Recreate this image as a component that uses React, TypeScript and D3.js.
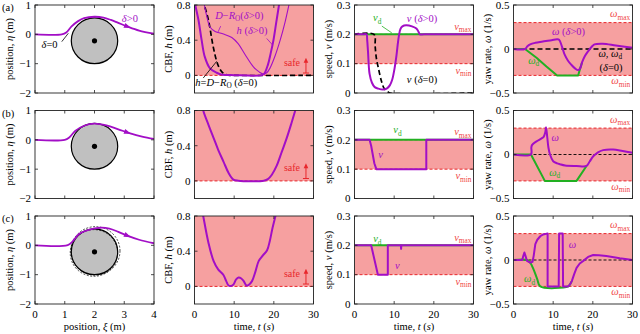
import React from 'react';
import * as d3 from 'd3';

type Pt = [number, number];

const PURPLE = '#a20ec6';
const GREEN = '#22b022';
const RED = '#e8262b';
const PINK = '#f6a0a0';
const LRED = '#f04848';
const FONT = '"Liberation Serif", "Times New Roman", serif';

// layout
const colX = [35, 194.5, 354.5, 513.5];
const rowY = [5, 110.5, 216];
const PW = 119;
const PH = 88;

// ---------- data ----------
// position (xi, eta)
const trajA: Pt[] = [[0, 0], [0.9, 0], [1.05, 0.06], [1.23, 0.27], [1.45, 0.45], [1.65, 0.55], [2.0, 0.6], [2.3, 0.57], [2.55, 0.49], [2.8, 0.39], [3.1, 0.27], [3.5, 0.13], [4.0, 0.02]];
const trajB: Pt[] = [[0, 0], [1.0, 0], [1.15, 0.08], [1.35, 0.3], [1.65, 0.48], [2.0, 0.55], [2.4, 0.49], [2.8, 0.36], [3.2, 0.22], [3.6, 0.11], [4.0, 0.03]];
const trajC: Pt[] = [[0, 0], [1.1, 0.01], [1.25, 0.12], [1.5, 0.4], [1.8, 0.53], [2.2, 0.6], [2.5, 0.57], [2.8, 0.46], [3.1, 0.33], [3.5, 0.19], [4.0, 0.07]];
const obstacle = { xi: 2, eta: -0.22, r: 0.78 };

// CBF
const hA: Pt[] = [[0, 0.85], [0.1, 0.82], [1.0, 0.63], [1.8, 0.4], [2.6, 0.21], [3.9, 0.08], [5.6, 0.03], [7, 0.008], [10, 0.003], [17, 0.003], [17.6, 0.02], [18.5, 0.12], [19.2, 0.25], [19.9, 0.4], [20.6, 0.6], [21.3, 0.8], [21.6, 0.9]];
const dA: Pt[] = [[2.0, 0.9], [2.4, 0.82], [3.1, 0.67], [3.9, 0.55], [5.2, 0.5], [7.3, 0.47], [9.4, 0.43], [11, 0.36], [12.7, 0.24], [14.8, 0.1], [16.3, 0.04], [17.4, 0.015], [18.2, 0.03], [19, 0.08], [20.3, 0.22], [21.6, 0.4], [22.8, 0.6], [23.8, 0.8], [24.2, 0.88]];
const h0A: Pt[] = [[1.8, 0.95], [2.2, 0.85], [3.5, 0.63], [4.7, 0.33], [5.6, 0.16], [6.3, 0.08], [6.9, 0.04], [7.6, 0.015], [8.5, 0.003], [10, 0], [30, 0]];
const hB: Pt[] = [[1.8, 0.9], [2.2, 0.8], [3.5, 0.64], [4.8, 0.49], [6, 0.35], [7.3, 0.22], [8.6, 0.09], [9.8, 0.015], [11, 0.002], [17.5, 0.002], [18.5, 0.02], [19.5, 0.07], [20.7, 0.17], [22, 0.33], [23.2, 0.48], [24.4, 0.65], [25.4, 0.8], [25.8, 0.86]];
const hC: Pt[] = [[1.8, 0.9], [2.2, 0.8], [3.5, 0.5], [4.8, 0.29], [6, 0.19], [7.3, 0.13], [8, 0.06], [8.6, 0.01], [9.3, 0.006], [9.8, 0.02], [10.5, 0.08], [11.1, 0.1], [11.8, 0.09], [12.4, 0.06], [13.1, 0.01], [13.6, 0.015], [14.5, 0.06], [15.3, 0.16], [16.2, 0.29], [17.2, 0.35], [18.3, 0.41], [19, 0.52], [19.6, 0.65], [20.4, 0.8], [20.7, 0.88]];

// speed
const vdA: Pt[] = [[0, 0.2], [30, 0.2]];
const vA: Pt[] = [[0, 0.2], [2.0, 0.2], [3.0, 0.2], [3.2, 0.18], [3.4, 0.142], [3.8, 0.065], [4.4, 0.035], [5.1, 0.02], [6, 0.015], [7.2, 0.012], [8.2, 0.016], [8.9, 0.026], [9.5, 0.045], [10.1, 0.084], [10.6, 0.13], [11, 0.177], [11.4, 0.21], [11.8, 0.224], [12.5, 0.23], [13.1, 0.231], [14.5, 0.227], [15.6, 0.22], [16.1, 0.21], [16.5, 0.2], [17.5, 0.2], [30, 0.2]];
const v0A: Pt[] = [[0, 0.2], [4.9, 0.2], [5.2, 0.16], [5.5, 0.12], [6.1, 0.08], [6.8, 0.04], [7.5, 0.015], [8.4, 0.004], [9, 0], [30, 0]];
const vdB: Pt[] = [[0, 0.2], [30, 0.2]];
const vB: Pt[] = [[0, 0.2], [3.8, 0.2], [4.2, 0.18], [4.6, 0.15], [5.0, 0.12], [5.5, 0.1], [18.1, 0.1], [18.1, 0.2], [30, 0.2]];
const vdC: Pt[] = [[0, 0.2], [30, 0.2]];
const vC: Pt[] = [[0, 0.2], [4.2, 0.2], [5.9, 0.1], [8.4, 0.1], [8.4, 0.2], [11.7, 0.2], [11.75, 0.188], [11.8, 0.2], [30, 0.2]];

// yaw rate
const wA: Pt[] = [[0, 0], [2.9, 0], [3.5, 0.03], [4.2, 0.052], [5.5, 0.07], [7.1, 0.083], [9.6, 0.1], [11.0, 0.11], [11.5, 0.105], [12.2, 0.03], [12.9, -0.065], [13.7, -0.13], [14.6, -0.18], [15.5, -0.22], [16.3, -0.24], [16.8, -0.22], [17.3, -0.15], [18.0, -0.08], [18.8, -0.026], [19.6, 0.02], [20.4, 0.052], [22.5, 0.06], [25.8, 0.04], [30, 0.013]];
const wdA: Pt[] = [[0, 0], [2.9, 0], [5.8, -0.1], [8.3, -0.2], [11.0, -0.3], [16.3, -0.3], [16.8, -0.22], [17.3, -0.15]];
const wB: Pt[] = [[0, 0], [4.4, 0], [4.5, 0.08], [4.7, 0.11], [5.8, 0.15], [7.0, 0.18], [7.6, 0.2], [8.0, 0.25], [8.2, 0.31], [8.5, 0.2], [8.8, 0.08], [9.2, 0], [10, -0.076], [11, -0.1], [11.7, -0.11], [13, -0.125], [15.9, -0.13], [18.4, -0.13], [19.2, -0.08], [20.1, -0.02], [21.3, 0.025], [22.6, 0.05], [25.1, 0.057], [27.5, 0.04], [30, 0.02]];
const wdB: Pt[] = [[0, 0], [4.4, 0], [7.9, -0.3], [15.9, -0.3], [18.4, -0.13]];
const wC: Pt[] = [[0, 0], [2.2, 0], [2.5, 0.05], [2.75, 0.085], [3.0, 0.05], [3.4, -0.01], [4.2, -0.03], [4.8, -0.02], [5.1, 0.05], [5.5, 0.18], [6.0, 0.23], [6.75, 0.27], [7.5, 0.29], [8.4, 0.3], [8.6, 0.3], [8.6, -0.3], [11.4, -0.3], [11.5, 0.3], [12.4, 0.3], [12.5, -0.3], [13.8, -0.3], [14.2, -0.28], [14.7, -0.24], [15.3, -0.16], [15.9, -0.09], [16.7, -0.04], [17.6, -0.01], [18.8, 0.035], [20.1, 0.057], [21.5, 0.055], [23.4, 0.045], [26.8, 0.02], [30, 0.0]];
const wdC: Pt[] = [[0, 0], [3.4, 0], [4.2, -0.03], [5.0, -0.1], [6.0, -0.22], [6.75, -0.3], [13.8, -0.3], [14.2, -0.28], [14.7, -0.24]];

// axes
const xiTicks = [0, 1, 2, 3, 4];
const tTicks = [0, 10, 20, 30];
const etaTicks = [-2, -1, 0, 1];
const hTicks = [0, 0.4, 0.8];
const vTicks = [0, 0.1, 0.2, 0.3];
const wTicks = [-0.5, 0, 0.5];

const fmt = (v: number) => (v < 0 ? '\u2212' + Math.abs(v) : String(v));

const path = (xs: any, ys: any, data: Pt[], curve: any = d3.curveLinear) =>
  d3.line<Pt>().x((d) => xs(d[0])).y((d) => ys(d[1])).curve(curve)(data) || '';

const smooth = d3.curveCatmullRom.alpha(0.5);

function Panel({ col, row, xDom, yDom, xTicks, yTicks, xLabel, yLabel, children }: any) {
  const xs = d3.scaleLinear().domain(xDom).range([0, PW]);
  const ys = d3.scaleLinear().domain(yDom).range([PH, 0]);
  const id = `clip-${row}-${col}`;
  return (
    <g transform={`translate(${colX[col]},${rowY[row]})`}>
      <clipPath id={id}>
        <rect width={PW} height={PH} />
      </clipPath>
      <g clipPath={`url(#${id})`}>{children(xs, ys)}</g>
      <rect width={PW} height={PH} fill="none" stroke="#222" strokeWidth={0.9} />
      {xTicks.map((t: number) => (
        <g key={'x' + t}>
          <line x1={xs(t)} x2={xs(t)} y1={PH} y2={PH - 3} stroke="#222" strokeWidth={0.8} />
          <line x1={xs(t)} x2={xs(t)} y1={0} y2={3} stroke="#222" strokeWidth={0.8} />
          {row === 2 && (
            <text x={xs(t)} y={PH + 14} textAnchor="middle" fontSize={11}>
              {fmt(t)}
            </text>
          )}
        </g>
      ))}
      {yTicks.map((t: number) => (
        <g key={'y' + t}>
          <line x1={0} x2={3} y1={ys(t)} y2={ys(t)} stroke="#222" strokeWidth={0.8} />
          <line x1={PW} x2={PW - 3} y1={ys(t)} y2={ys(t)} stroke="#222" strokeWidth={0.8} />
          <text x={-4} y={ys(t) + 3.8} textAnchor="end" fontSize={11}>
            {fmt(t)}
          </text>
        </g>
      ))}
      <text transform={`translate(-22.5,${PH / 2}) rotate(-90)`} textAnchor="middle" fontSize={10.5}>
        {yLabel}
      </text>
      {row === 2 && (
        <text x={PW / 2} y={PH + 25.5} textAnchor="middle" fontSize={10.5}>
          {xLabel}
        </text>
      )}
    </g>
  );
}

const I = ({ children }: any) => <tspan fontStyle="italic">{children}</tspan>;

function Sub({ base, sub, x, y, fill, anchor = 'start', size = 10.5 }: any) {
  return (
    <text x={x} y={y} fill={fill} textAnchor={anchor} fontSize={size}>
      <tspan fontStyle="italic">{base}</tspan>
      <tspan fontSize={size * 0.7} dy={2.5}>
        {sub}
      </tspan>
    </text>
  );
}

function arrowAt(xs: any, ys: any, data: Pt[], xv: number) {
  let i = 0;
  while (i < data.length - 2 && data[i + 1][0] < xv) i++;
  const [a, b] = [data[i], data[i + 1]];
  const f = (xv - a[0]) / (b[0] - a[0]);
  const px = xs(xv);
  const py = ys(a[1] + f * (b[1] - a[1]));
  const ang = (Math.atan2(ys(b[1]) - ys(a[1]), xs(b[0]) - xs(a[0])) * 180) / Math.PI;
  return <path d="M4,0 L-3,-2.6 L-3,2.6 Z" fill={PURPLE} transform={`translate(${px},${py}) rotate(${ang})`} />;
}

function Position({ row, traj, dashed }: any) {
  return (
    <Panel col={0} row={row} xDom={[0, 4]} yDom={[-2, 1]} xTicks={xiTicks} yTicks={etaTicks}
      xLabel={<>position, <I>ξ</I> (m)</>} yLabel={<>position, <I>η</I> (m)</>}>
      {(xs: any, ys: any) => {
        const rx = xs(obstacle.r) - xs(0);
        const ry = ys(0) - ys(obstacle.r);
        return (
          <g>
            <ellipse cx={xs(obstacle.xi)} cy={ys(obstacle.eta)} rx={rx} ry={ry} fill="#c0c0c0" stroke="#000" strokeWidth={1.2} />
            {dashed && (
              <g fill="none" stroke="#000" strokeWidth={0.7} strokeDasharray="2,1.5">
                <ellipse cx={xs(obstacle.xi + 0.03)} cy={ys(obstacle.eta + 0.03)} rx={rx * 1.06} ry={ry * 1.06} />
                <ellipse cx={xs(obstacle.xi - 0.02)} cy={ys(obstacle.eta - 0.04)} rx={rx * 1.02} ry={ry * 1.02} />
              </g>
            )}
            <circle cx={xs(obstacle.xi)} cy={ys(obstacle.eta)} r={2.6} fill="#000" />
            <path d={path(xs, ys, traj, smooth)} fill="none" stroke={PURPLE} strokeWidth={1.8} />
            {arrowAt(xs, ys, traj, 3.1)}
            {row === 0 && (
              <g>
                <text x={xs(2.92)} y={ys(0.42)} fill={PURPLE} fontSize={10.5}><I>δ</I>&gt;0</text>
                <text x={xs(0.22)} y={ys(-0.47)} fontSize={10.5}><I>δ</I>=0</text>
                <line x1={xs(0.9)} y1={ys(-0.25)} x2={xs(1.12)} y2={ys(0.035)} stroke="#000" strokeWidth={0.8} />
              </g>
            )}
          </g>
        );
      }}
    </Panel>
  );
}

function SafeMark({ xs, ys }: any) {
  return (
    <g>
      <text x={xs(26.6)} y={ys(0.11)} fill={RED} fontSize={10} textAnchor="end">safe</text>
      <line x1={xs(28.1)} x2={xs(28.1)} y1={ys(0.027)} y2={ys(0.17)} stroke={RED} strokeWidth={1} />
      <line x1={xs(28.1) - 3} x2={xs(28.1) + 3} y1={ys(0.027)} y2={ys(0.027)} stroke={RED} strokeWidth={1} />
      <path d={`M${xs(28.1)},${ys(0.2)} l-2.3,5 l4.6,0 Z`} fill={RED} />
    </g>
  );
}

function CBF({ row, series }: any) {
  return (
    <Panel col={1} row={row} xDom={[0, 30]} yDom={[-0.2, 0.8]} xTicks={tTicks} yTicks={hTicks}
      xLabel={<>time, <I>t</I> (<I>s</I>)</>} yLabel={<>CBF, <I>h</I> (m)</>}>
      {(xs: any, ys: any) => (
        <g>
          <rect x={0} y={0} width={PW} height={ys(0)} fill={PINK} />
          <line x1={0} x2={PW} y1={ys(0)} y2={ys(0)} stroke={RED} strokeWidth={1} strokeDasharray="3,2" />
          {series(xs, ys)}
          <SafeMark xs={xs} ys={ys} />
        </g>
      )}
    </Panel>
  );
}

function Speed({ row, series }: any) {
  return (
    <Panel col={2} row={row} xDom={[0, 30]} yDom={[0, 0.3]} xTicks={tTicks} yTicks={vTicks}
      xLabel={<>time, <I>t</I> (<I>s</I>)</>} yLabel={<>speed, <I>v</I> (m/s)</>}>
      {(xs: any, ys: any) => (
        <g>
          <rect x={0} y={ys(0.2)} width={PW} height={ys(0.1) - ys(0.2)} fill={PINK} />
          <line x1={0} x2={PW} y1={ys(0.1)} y2={ys(0.1)} stroke={RED} strokeWidth={1} strokeDasharray="3,2" />
          <line x1={0} x2={PW} y1={ys(0.2)} y2={ys(0.2)} stroke={RED} strokeWidth={1} strokeDasharray="3,2" />
          {series(xs, ys)}
          <Sub base="v" sub="max" x={xs(29.5)} y={ys(0.215)} fill={LRED} anchor="end" />
          <Sub base="v" sub="min" x={xs(29.5)} y={ys(0.066)} fill={LRED} anchor="end" />
        </g>
      )}
    </Panel>
  );
}

function Yaw({ row, series, thickZero }: any) {
  return (
    <Panel col={3} row={row} xDom={[0, 30]} yDom={[-0.5, 0.5]} xTicks={tTicks} yTicks={wTicks}
      xLabel={<>time, <I>t</I> (<I>s</I>)</>} yLabel={<>yaw rate, <I>ω</I> (1/s)</>}>
      {(xs: any, ys: any) => (
        <g>
          <rect x={0} y={ys(0.3)} width={PW} height={ys(-0.3) - ys(0.3)} fill={PINK} />
          <line x1={0} x2={PW} y1={ys(0.3)} y2={ys(0.3)} stroke={RED} strokeWidth={1} strokeDasharray="3,2" />
          <line x1={0} x2={PW} y1={ys(-0.3)} y2={ys(-0.3)} stroke={RED} strokeWidth={1} strokeDasharray="3,2" />
          <line x1={0} x2={PW} y1={ys(0)} y2={ys(0)} stroke="#000" strokeWidth={thickZero ? 1.6 : 0.9}
            strokeDasharray={thickZero ? '5,3' : '3,2'} />
          {series(xs, ys)}
          <Sub base="ω" sub="max" x={xs(29.4)} y={ys(0.36)} fill={LRED} anchor="end" />
          <Sub base="ω" sub="min" x={xs(29.4)} y={ys(-0.4)} fill={LRED} anchor="end" />
        </g>
      )}
    </Panel>
  );
}

const pLine = (xs: any, ys: any, d: Pt[], color: string, w: number, curve: any = d3.curveLinear, dash?: string) => (
  <path d={path(xs, ys, d, curve)} fill="none" stroke={color} strokeWidth={w} strokeDasharray={dash} strokeLinejoin="round" />
);

export default function App() {
  return (
    <svg width={640} height={334} fontFamily={FONT} style={{ position: 'absolute', left: 0, top: 0, background: '#fff' }}>
      <text x={2} y={11} fontSize={10.5}>(a)</text>
      <text x={2} y={116.5} fontSize={10.5}>(b)</text>
      <text x={2} y={222} fontSize={10.5}>(c)</text>

      <Position row={0} traj={trajA} />
      <Position row={1} traj={trajB} />
      <Position row={2} traj={trajC} dashed />

      <CBF row={0} series={(xs: any, ys: any) => (
        <g>
          {pLine(xs, ys, h0A, '#000', 1.7, smooth, '5,3')}
          {pLine(xs, ys, dA, PURPLE, 1.1, smooth)}
          {pLine(xs, ys, hA, PURPLE, 2, smooth)}
          <text x={xs(5.2)} y={ys(0.645)} fill={PURPLE} fontSize={10.5}>
            <I>D</I>{'\u2212'}<I>R</I><tspan fontSize={7.3} dy={2.5}>O</tspan><tspan dy={-2.5}>(</tspan><I>δ</I>&gt;0)
          </text>
          <line x1={xs(6.6)} y1={ys(0.56)} x2={xs(5.9)} y2={ys(0.49)} stroke={PURPLE} strokeWidth={0.8} />
          <text x={xs(10.6)} y={ys(0.47)} fill={PURPLE} fontSize={10.5}><I>h</I> (<I>δ</I>&gt;0)</text>
          <line x1={xs(18.2)} y1={ys(0.42)} x2={xs(19.7)} y2={ys(0.345)} stroke={PURPLE} strokeWidth={0.8} />
          <text x={xs(0.2)} y={ys(-0.12)} fontSize={10.5}>
            <I>h</I>=<I>D</I>{'\u2212'}<I>R</I><tspan fontSize={7.3} dy={2.5}>O</tspan><tspan dy={-2.5}> (</tspan><I>δ</I>=0)
          </text>
          <line x1={xs(2.2)} y1={ys(-0.03)} x2={xs(5.6)} y2={ys(0.16)} stroke="#000" strokeWidth={0.8} />
        </g>
      )} />
      <CBF row={1} series={(xs: any, ys: any) => pLine(xs, ys, hB, PURPLE, 2, smooth)} />
      <CBF row={2} series={(xs: any, ys: any) => pLine(xs, ys, hC, PURPLE, 2, smooth)} />

      <Speed row={0} series={(xs: any, ys: any) => (
        <g>
          {pLine(xs, ys, vdA, GREEN, 2)}
          {pLine(xs, ys, v0A, '#000', 1.7, smooth, '5,3')}
          {pLine(xs, ys, vA, PURPLE, 2, smooth)}
          <Sub base="v" sub="d" x={xs(4.66)} y={ys(0.245)} fill={GREEN} />
          <line x1={xs(6.9)} y1={ys(0.228)} x2={xs(9.4)} y2={ys(0.205)} stroke={GREEN} strokeWidth={0.8} />
          <text x={xs(13.2)} y={ys(0.243)} fill={PURPLE} fontSize={10.5}><I>v</I> (<I>δ</I>&gt;0)</text>
          <text x={xs(13.2)} y={ys(0.033)} fontSize={10.5}><I>v</I> (<I>δ</I>=0)</text>
        </g>
      )} />
      <Speed row={1} series={(xs: any, ys: any) => (
        <g>
          {pLine(xs, ys, vdB, GREEN, 2)}
          {pLine(xs, ys, vB, PURPLE, 2)}
          <Sub base="v" sub="d" x={xs(9.8)} y={ys(0.222)} fill={GREEN} />
          <text x={xs(6.0)} y={ys(0.139)} fill={PURPLE} fontSize={10.5}><I>v</I></text>
        </g>
      )} />
      <Speed row={2} series={(xs: any, ys: any) => (
        <g>
          {pLine(xs, ys, vdC, GREEN, 2)}
          {pLine(xs, ys, vC, PURPLE, 2)}
          <Sub base="v" sub="d" x={xs(4.7)} y={ys(0.21)} fill={GREEN} />
          <text x={xs(10.2)} y={ys(0.118)} fill={PURPLE} fontSize={10.5}><I>v</I></text>
        </g>
      )} />

      <Yaw row={0} thickZero series={(xs: any, ys: any) => (
        <g>
          {pLine(xs, ys, wdA, GREEN, 2)}
          {pLine(xs, ys, wA, PURPLE, 2, smooth)}
          <text x={xs(9.7)} y={ys(0.16)} fill={PURPLE} fontSize={10.5}><I>ω</I> (<I>δ</I>&gt;0)</text>
          <Sub base="ω" sub="d" x={xs(3.7)} y={ys(-0.17)} fill={GREEN} />
          <text x={xs(24.4)} y={ys(-0.095)} fontSize={10.5} textAnchor="middle">
            <I>ω</I>, <I>ω</I><tspan fontSize={7.3} dy={2}>d</tspan>
          </text>
          <text x={xs(24.6)} y={ys(-0.255)} fontSize={10.5} textAnchor="middle">(<I>δ</I>=0)</text>
        </g>
      )} />
      <Yaw row={1} series={(xs: any, ys: any) => (
        <g>
          {pLine(xs, ys, wdB, GREEN, 2)}
          {pLine(xs, ys, wB, PURPLE, 2, smooth)}
          <text x={xs(9.6)} y={ys(0.153)} fill={PURPLE} fontSize={10.5}><I>ω</I></text>
          <Sub base="ω" sub="d" x={xs(9.0)} y={ys(-0.24)} fill={GREEN} />
        </g>
      )} />
      <Yaw row={2} series={(xs: any, ys: any) => (
        <g>
          {pLine(xs, ys, wdC, GREEN, 2, smooth)}
          {pLine(xs, ys, wC, PURPLE, 2)}
          <text x={xs(13.9)} y={ys(0.14)} fill={PURPLE} fontSize={10.5}><I>ω</I></text>
          <Sub base="ω" sub="d" x={xs(2.65)} y={ys(-0.25)} fill={GREEN} />
        </g>
      )} />
    </svg>
  );
}
